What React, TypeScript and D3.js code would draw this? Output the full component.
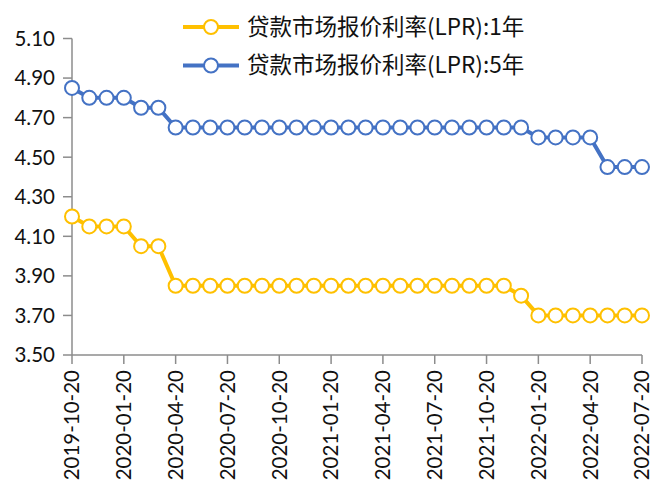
import React from "react";
import * as d3 from "d3";

const dates: string[] = [
  "2019-10-20","2019-11-20","2019-12-20","2020-01-20","2020-02-20","2020-03-20","2020-04-20","2020-05-20","2020-06-20","2020-07-20","2020-08-20","2020-09-20","2020-10-20","2020-11-20","2020-12-20","2021-01-20","2021-02-20","2021-03-20","2021-04-20","2021-05-20","2021-06-20","2021-07-20","2021-08-20","2021-09-20","2021-10-20","2021-11-20","2021-12-20","2022-01-20","2022-02-20","2022-03-20","2022-04-20","2022-05-20","2022-06-20","2022-07-20"
];
const lpr1y: number[] = [4.20,4.15,4.15,4.15,4.05,4.05,3.85,3.85,3.85,3.85,3.85,3.85,3.85,3.85,3.85,3.85,3.85,3.85,3.85,3.85,3.85,3.85,3.85,3.85,3.85,3.85,3.80,3.70,3.70,3.70,3.70,3.70,3.70,3.70];
const lpr5y: number[] = [4.85,4.80,4.80,4.80,4.75,4.75,4.65,4.65,4.65,4.65,4.65,4.65,4.65,4.65,4.65,4.65,4.65,4.65,4.65,4.65,4.65,4.65,4.65,4.65,4.65,4.65,4.65,4.60,4.60,4.60,4.60,4.45,4.45,4.45];
const yTicks: number[] = [3.5,3.7,3.9,4.1,4.3,4.5,4.7,4.9,5.1];
const seriesNames: string[] = ["贷款市场报价利率(LPR):1年", "贷款市场报价利率(LPR):5年"];
const colors: string[] = ["#FFC000", "#4472C4"];

export default function App() {
  const x = d3.scaleLinear().domain([0, dates.length - 1]).range([72, 642]);
  const y = d3.scaleLinear().domain([3.5, 5.1]).range([355, 38.5]);
  const line = d3.line<number>().x((_, i) => x(i)).y((d) => y(d));
  const series = [lpr1y, lpr5y];
  const font = "Lato, 'Noto Sans', sans-serif";
  const xTickIdx = dates.map((_, i) => i).filter((i) => i % 3 === 0);
  const axisColor = "#8c8c8c";
  return (
    <svg width={661} height={485} style={{ position: "absolute", left: 0, top: 0 }}>
      <rect width={661} height={485} fill="#fff" />
      {/* y axis */}
      <line x1={72} x2={72} y1={y(5.1)} y2={y(3.5)} stroke={axisColor} strokeWidth={1.5} />
      {yTicks.map((t) => (
        <g key={t}>
          <line x1={63} x2={72} y1={y(t)} y2={y(t)} stroke={axisColor} strokeWidth={1.5} />
          <text x={55} y={y(t)} dy="0.36em" textAnchor="end" fontSize={20.5} fontFamily={font} fill="#111">
            {t.toFixed(2)}
          </text>
        </g>
      ))}
      {/* x axis */}
      <line x1={x(0)} x2={x(dates.length - 1)} y1={y(3.5)} y2={y(3.5)} stroke={axisColor} strokeWidth={1.5} />
      {xTickIdx.map((i) => (
        <g key={i}>
          <line x1={x(i)} x2={x(i)} y1={y(3.5)} y2={y(3.5) + 9} stroke={axisColor} strokeWidth={1.5} />
          <text
            transform={`translate(${x(i)},${y(3.5) + 15}) rotate(-90)`}
            dy="0.36em"
            textAnchor="end"
            fontSize={20.5}
            fontFamily={font}
            fill="#111"
          >
            {dates[i]}
          </text>
        </g>
      ))}
      {/* series */}
      {series.map((s, k) => (
        <g key={k}>
          <path d={line(s) || ""} fill="none" stroke={colors[k]} strokeWidth={4} />
          {s.map((v, i) => (
            <circle key={i} cx={x(i)} cy={y(v)} r={7} fill="#fff" stroke={colors[k]} strokeWidth={2} />
          ))}
        </g>
      ))}
      {/* legend */}
      {seriesNames.map((n, k) => {
        const ly = 27 + k * 38.5;
        return (
          <g key={n}>
            <line x1={183} x2={239} y1={ly} y2={ly} stroke={colors[k]} strokeWidth={4} />
            <circle cx={211} cy={ly} r={7} fill="#fff" stroke={colors[k]} strokeWidth={2} />
            <text x={247} y={ly} dy="0.35em" fontSize={22.5} fontFamily="'Noto Sans CJK SC', sans-serif" fill="#111">
              {n}
            </text>
          </g>
        );
      })}
    </svg>
  );
}
